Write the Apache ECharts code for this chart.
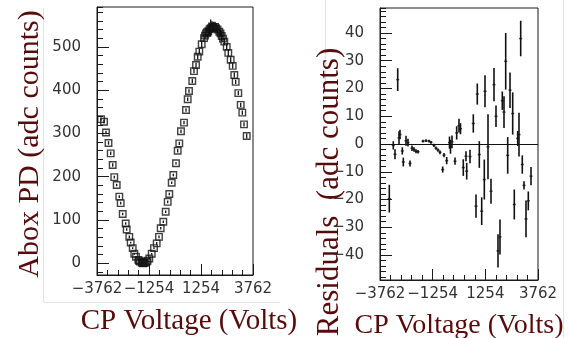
<!DOCTYPE html>
<html>
<head>
<meta charset="utf-8">
<script src="https://cdn.jsdelivr.net/npm/echarts@6/dist/echarts.min.js"></script>
<style>
  html, body { margin: 0; padding: 0; background: #fff; }
  #chart { width: 569px; height: 338px; }
</style>
</head>
<body>
<div id="chart"></div>
<script>
// CP voltage scan: photodiode response (left) and fit residuals (right)

// Axis tick labels
const voltTicks = [-3762, -1254, 1254, 3762];
const countTicks = [0, 100, 200, 300, 400, 500];
const residualTicks = [-40, -30, -20, -10, 0, 10, 20, 30, 40];

// Abox photodiode readout versus CP voltage
const pdVolts = [
  -3569, -3424, -3328, -3207, -3101, -3005, -2928, -2812, -2686, -2619,
  -2522, -2378, -2330, -2204, -2137, -2040, -1963, -1881, -1770, -1736,
  -1688, -1606, -1568, -1543, -1495, -1447, -1365, -1326, -1240, -1124,
  -1013, -883, -772, -690, -564, -449, -352, -275, -159, -82,
  48, 130, 207, 289, 434, 530, 612, 675, 834, 916,
  1013, 1095, 1172, 1288, 1399, 1447, 1495, 1543, 1606, 1664,
  1722, 1784, 1847, 1929, 1977, 2050, 2137, 2194, 2252, 2315,
  2378, 2493, 2571, 2686, 2783, 2860, 2928, 3053, 3169, 3246,
  3328, 3458
];
const pdCounts = [
  333, 327, 302, 278, 254, 227, 199, 181, 154, 139,
  114, 92, 78, 61, 48, 35, 22, 15, 8, 6,
  4, 2, 1, 0, 1, 1, 4, 6, 11, 22,
  35, 46, 61, 81, 96, 119, 142, 160, 186, 204,
  231, 260, 277, 305, 325, 354, 379, 398, 421, 444,
  458, 477, 489, 506, 520, 526, 531, 534, 536, 541,
  543, 547, 546, 546, 543, 540, 535, 531, 525, 519,
  512, 500, 486, 470, 456, 435, 419, 393, 366, 348,
  321, 294
];
const pdErr = [
  4, 4, 4, 4, 4, 4, 3, 3, 3, 3,
  3, 3, 3, 3, 2, 2, 2, 2, 2, 2,
  2, 2, 2, 2, 2, 2, 2, 2, 2, 2,
  2, 3, 3, 3, 3, 3, 3, 3, 3, 3,
  3, 4, 4, 4, 4, 4, 4, 4, 5, 5,
  5, 6, 6, 8, 8, 9, 10, 10, 12, 12,
  20, 12, 12, 12, 10, 10, 10, 9, 12, 8,
  8, 7, 7, 6, 6, 6, 5, 5, 5, 5,
  5, 6
];

// Residuals of the fit
const resVolts = [
  -3319, -3129, -3048, -2919, -2857, -2810, -2700, -2652, -2524, -2429,
  -2333, -2238, -2143, -2048, -1952, -1714, -1571, -1429, -1333, -1191,
  -1095, -1000, -905, -776, -714, -586, -452, -405, -333, -190,
  -110, 0, 71, 205, 333, 367, 524, 681, 810, 871,
  967, 1081, 1205, 1238, 1381, 1524, 1667, 1762, 1857, 1952,
  2062, 2143, 2224, 2319, 2429, 2557, 2633, 2795, 2857, 2938,
  3014, 3095, 3191, 3300, 3429
];
const resValues = [
  -19.7, -0.5, -3.7, 23.2, 2.2, 3.4, -2.5, -6.5, 1.2, 0.5,
  -7.0, -1.5, -2.0, -2.6, -2.8, 1.0, 1.2, 1.0, 0.6, -0.5,
  -1.5, -2.2, -3.0, -9.2, -4.0, -6.0, 0.5, -1.0, 0.8, -6.2,
  4.0, 6.6, 5.5, -8.5, -4.4, -9.8, -4.5, 7.4, -22.4, 18.0,
  -3.8, -24.2, -12.8, 19.0, -1.0, -17.0, 21.4, 10.0, -38.5, -33.5,
  15.6, 11.5, 29.8, -4.1, 19.4, 11.0, -21.8, 2.0, 3.4, 38.0,
  -7.4, -14.9, -27.0, -20.5, -11.6
];
const resErr = [
  5.0, 1.5, 1.8, 4.1, 2.4, 1.7, 1.3, 1.6, 1.8, 1.4,
  1.1, 1.0, 0.8, 0.7, 0.6, 0.5, 0.5, 0.5, 0.5, 0.6,
  0.6, 0.6, 0.7, 1.1, 0.8, 1.3, 2.2, 2.5, 2.3, 1.3,
  2.4, 2.5, 2.0, 3.0, 1.8, 3.0, 2.4, 3.3, 4.2, 3.8,
  4.8, 5.0, 7.2, 5.8, 11.7, 4.5, 6.0, 3.9, 6.0, 6.3,
  3.3, 5.7, 10.2, 6.6, 6.4, 7.6, 5.4, 2.7, 7.9, 6.4,
  3.3, 1.5, 6.6, 3.4, 3.3
];

const labelFont = 'DejaVu Sans';
const titleFont = '"Liberation Serif", "Times New Roman", serif';
const titleColor = '#560c0c';
const ink = '#1a1a1a';

function withMinus(v) { return String(v).replace('-', '\u2212'); }

function errorBars(xs, ys, es) {
  return xs.map((x, i) => [x, ys[i] - es[i], ys[i] + es[i]]);
}

function pairs(xs, ys) { return xs.map((x, i) => [x, ys[i]]); }

function makeErrorBarRenderer(width) {
  return function (params, api) {
    const lo = api.coord([api.value(0), api.value(1)]);
    const hi = api.coord([api.value(0), api.value(2)]);
    return {
      type: 'line',
      shape: { x1: lo[0], y1: lo[1], x2: hi[0], y2: hi[1] },
      style: { stroke: '#111', lineWidth: width }
    };
  };
}

function voltAxis(gridIndex) {
  return {
    type: 'value', gridIndex, position: 'bottom',
    min: voltTicks[0], max: voltTicks[voltTicks.length - 1],
    interval: voltTicks[1] - voltTicks[0],
    axisLine: { show: true, onZero: false, lineStyle: { color: ink, width: 1 } },
    axisTick: { show: true, inside: true, length: 11, lineStyle: { color: ink } },
    minorTick: { show: true, splitNumber: 5, length: 5, lineStyle: { color: ink } },
    splitLine: { show: false },
    minorSplitLine: { show: false },
    axisLabel: { margin: 7, color: '#333', fontFamily: labelFont, fontSize: 15, formatter: withMinus }
  };
}

function valueAxis(gridIndex, min, max, splitNumber, ticks) {
  return {
    type: 'value', gridIndex, position: 'left', min, max, splitNumber,
    axisLine: { show: true, onZero: false, lineStyle: { color: ink, width: 1 } },
    axisTick: { show: true, inside: true, length: 12, lineStyle: { color: ink } },
    splitLine: { show: false },
    axisLabel: {
      margin: 16, color: '#333', fontFamily: labelFont, fontSize: 15,
      showMinLabel: false, showMaxLabel: false,
      formatter: v => (ticks.indexOf(v) >= 0 ? withMinus(v) : '')
    }
  };
}

function minorAxis(gridIndex, min, max, splitNumber) {
  return {
    type: 'value', gridIndex, position: 'left', min, max, splitNumber,
    axisLine: { show: false, onZero: false },
    axisTick: { show: true, inside: true, length: 6, lineStyle: { color: ink } },
    axisLabel: { show: false },
    splitLine: { show: false }
  };
}

const chart = echarts.init(document.getElementById('chart'), null, { renderer: 'canvas' });

chart.setOption({
  animation: false,
  backgroundColor: '#fff',
  grid: [
    { left: 97, top: 7, width: 156, height: 268, show: true, borderColor: ink, borderWidth: 1, outerBoundsMode: 'none' },
    { left: 380, top: 8, width: 158, height: 272, show: true, borderColor: ink, borderWidth: 1, outerBoundsMode: 'none' }
  ],
  xAxis: [voltAxis(0), voltAxis(1)],
  yAxis: [
    valueAxis(0, -27, 592, 6, countTicks),
    minorAxis(0, -27, 592, 31),
    valueAxis(1, -49, 49, 10, residualTicks),
    minorAxis(1, -49, 49, 49)
  ],
  series: [
    {
      type: 'custom', xAxisIndex: 0, yAxisIndex: 0, clip: true,
      renderItem: makeErrorBarRenderer(1.3), encode: { x: 0, y: [1, 2] },
      data: errorBars(pdVolts, pdCounts, pdErr), z: 2
    },
    {
      type: 'scatter', xAxisIndex: 0, yAxisIndex: 0,
      symbol: 'rect', symbolSize: 6.5,
      itemStyle: { color: 'rgba(0,0,0,0)', borderColor: '#111', borderWidth: 1.4 },
      data: pairs(pdVolts, pdCounts), z: 3
    },
    {
      type: 'custom', xAxisIndex: 1, yAxisIndex: 2, clip: true,
      renderItem: makeErrorBarRenderer(1.6), encode: { x: 0, y: [1, 2] },
      data: errorBars(resVolts, resValues, resErr), z: 2
    },
    {
      type: 'scatter', xAxisIndex: 1, yAxisIndex: 2,
      symbol: 'rect', symbolSize: [3, 1.5],
      itemStyle: { color: '#111' },
      data: pairs(resVolts, resValues), z: 3,
      markLine: {
        silent: true, symbol: ['none', 'none'],
        label: { show: false },
        lineStyle: { color: '#111', width: 1.2, type: 'solid' },
        data: [{ yAxis: 0 }]
      }
    }
  ],
  graphic: [
    { type: 'line', shape: { x1: 43.5, y1: 8, x2: 43.5, y2: 302.5 }, style: { stroke: '#e3e3e3', lineWidth: 1 }, silent: true },
    { type: 'line', shape: { x1: 43.5, y1: 302.5, x2: 280, y2: 302.5 }, style: { stroke: '#e3e3e3', lineWidth: 1 }, silent: true },
    { type: 'line', shape: { x1: 325.5, y1: 0, x2: 325.5, y2: 85 }, style: { stroke: '#e3e3e3', lineWidth: 1 }, silent: true },
    { type: 'line', shape: { x1: 563.5, y1: 0, x2: 563.5, y2: 338 }, style: { stroke: '#e3e3e3', lineWidth: 1 }, silent: true },
    {
      type: 'text', x: 30, y: 144, rotation: Math.PI / 2,
      style: { text: 'Abox PD (adc counts)', font: '30px ' + titleFont, fill: titleColor,
               textAlign: 'center', textVerticalAlign: 'middle', align: 'center', verticalAlign: 'middle' }
    },
    {
      type: 'text', x: 189, y: 321,
      style: { text: 'CP Voltage (Volts)', font: '29px ' + titleFont, fill: titleColor,
               textAlign: 'center', textVerticalAlign: 'middle', align: 'center', verticalAlign: 'middle' }
    },
    {
      type: 'text', x: 330, y: 192, rotation: Math.PI / 2,
      style: { text: 'Residuals  (adc counts)', font: '31px ' + titleFont, fill: titleColor,
               textAlign: 'center', textVerticalAlign: 'middle', align: 'center', verticalAlign: 'middle' }
    },
    {
      type: 'text', x: 459, y: 326,
      style: { text: 'CP Voltage (Volts)', font: '28px ' + titleFont, fill: titleColor,
               textAlign: 'center', textVerticalAlign: 'middle', align: 'center', verticalAlign: 'middle' }
    }
  ]
});
</script>
</body>
</html>
